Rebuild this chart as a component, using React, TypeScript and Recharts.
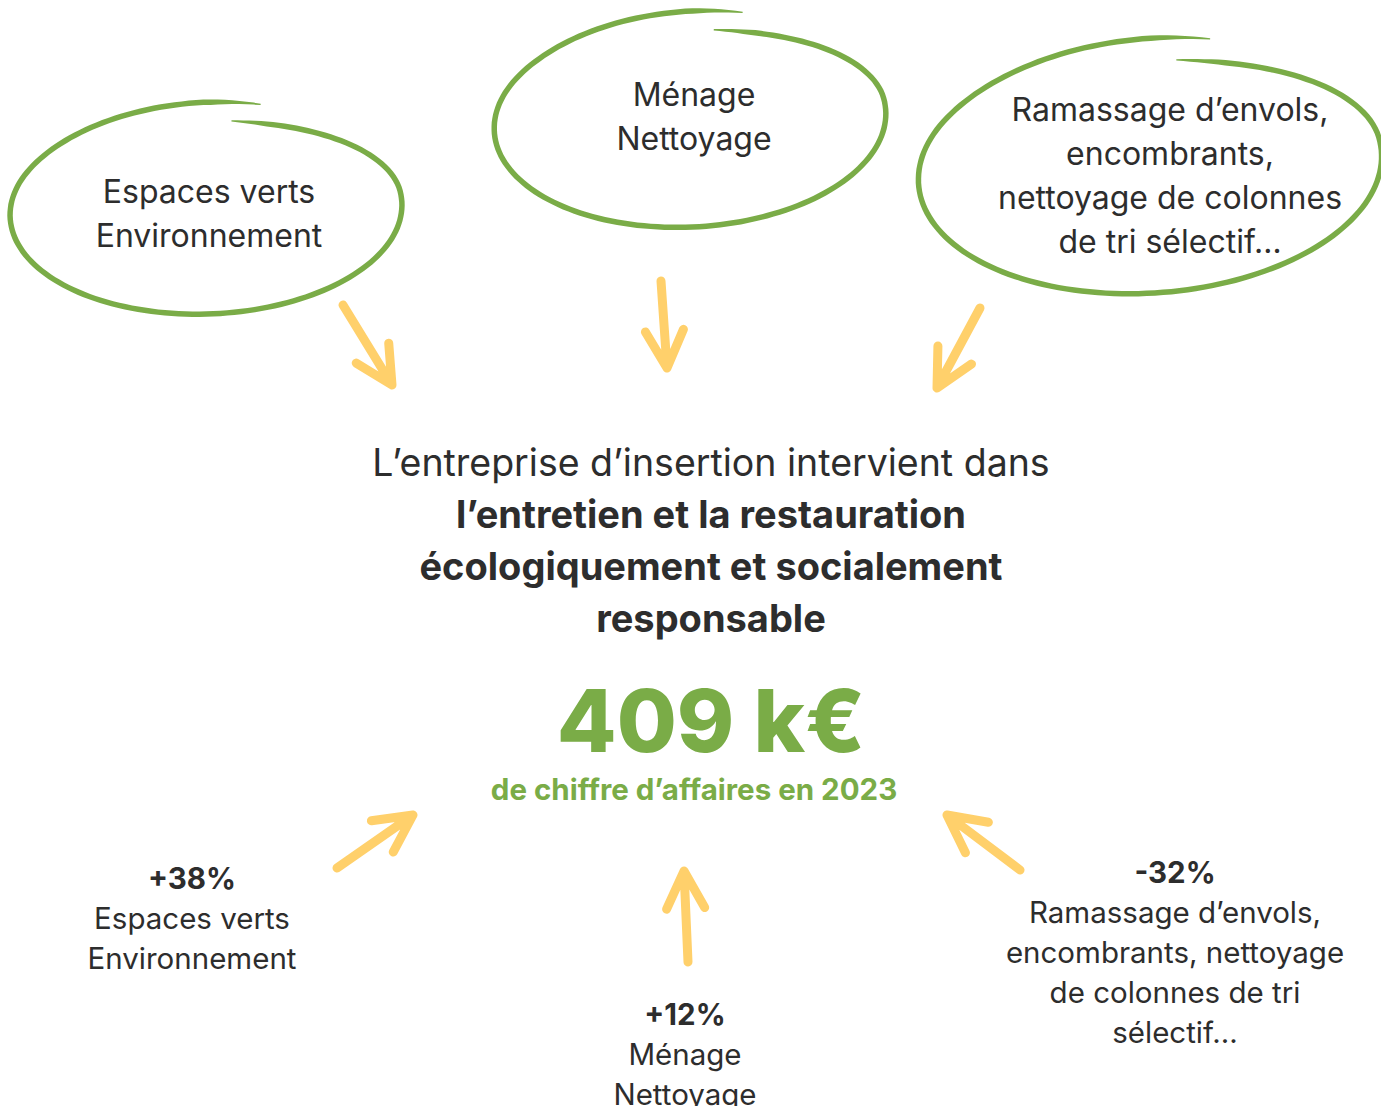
import { ScatterChart, Scatter, XAxis, YAxis } from "recharts";

// --- data ---
const serviceLines = [
  ["Espaces verts", "Environnement"],
  ["Ménage", "Nettoyage"],
  ["Ramassage d’envols,", "encombrants,", "nettoyage de colonnes", "de tri sélectif…"],
];
const growthValues = [38, 12, -32];
const growthLines = [
  ["Espaces verts", "Environnement"],
  ["Ménage", "Nettoyage"],
  ["Ramassage d’envols,", "encombrants, nettoyage", "de colonnes de tri", "sélectif…"],
];
const introLine = "L’entreprise d’insertion intervient dans";
const introBold = ["l’entretien et la restauration", "écologiquement et socialement", "responsable"];
const revenue = 409;
const revenueUnit = "k€";
const revenueYear = 2023;

// --- layout (pixels) ---
const W = 1381;
const H = 1106;
const GREEN = "#7aac47";
const YELLOW = "#ffd06b";
const INK = "#2d2d2d";
const FONT = "Inter, 'Noto Sans', sans-serif";

const bubbleLayout = [
  { x: 206, y: 210, rx: 196, ry: 104, rot: -2, tx: 3, ty: 3 },
  { x: 690, y: 121, rx: 196, ry: 106, rot: -3, tx: 4, ty: -5 },
  { x: 1150, y: 168, rx: 232, ry: 125, rot: -4, tx: 20, ty: 7 },
];
const growthLayout = [
  { x: 192, y: 878 },
  { x: 685, y: 1014 },
  { x: 1175, y: 872 },
];
const arrowLayout = [
  { x: 392, y: 385, fx: 343, fy: 305 },
  { x: 667, y: 368, fx: 661, fy: 281 },
  { x: 937, y: 388, fx: 980, fy: 308 },
  { x: 413, y: 815, fx: 337, fy: 868 },
  { x: 684, y: 871, fx: 688, fy: 962 },
  { x: 947, y: 815, fx: 1020, fy: 870 },
];
const headlineLayout = { x: 711, y: 462 };

const bubbleData = serviceLines.map((lines, i) => ({ ...bubbleLayout[i], lines }));
const growthData = growthValues.map((v, i) => ({
  ...growthLayout[i],
  label: `${v > 0 ? "+" : ""}${v}%`,
  lines: growthLines[i],
}));
const arrowData = arrowLayout;
const headlineData = [{ ...headlineLayout, revenue }];

const ease = (t: number) => {
  const c = Math.max(0, Math.min(1, t));
  return c * c * (3 - 2 * c);
};

// hand-drawn loop, slightly spiralling so the ends overlap
function brushPath(rx: number, ry: number, rot: number, w: number) {
  const N = 180;
  const t0 = -Math.PI / 2 + 0.17;
  const span = Math.PI * 2 + 0.12;
  const r = (rot * Math.PI) / 180;
  const pts: [number, number, number][] = [];
  for (let i = 0; i <= N; i++) {
    const u = i / N;
    const th = t0 + span * u;
    const s = 0.86 + 0.14 * ease(u / 0.2) + 0.04 * ease((u - 0.8) / 0.2);
    const px = rx * s * Math.cos(th);
    const py = ry * s * Math.sin(th);
    const x = px * Math.cos(r) - py * Math.sin(r);
    const y = px * Math.sin(r) + py * Math.cos(r);
    const k = Math.min(1, 0.25 + u / 0.05, 0.25 + (1 - u) / 0.05);
    pts.push([x, y, w * k]);
  }
  const a: string[] = [];
  const b: string[] = [];
  for (let i = 0; i <= N; i++) {
    const p0 = pts[Math.max(0, i - 1)];
    const p1 = pts[Math.min(N, i + 1)];
    let dx = p1[0] - p0[0];
    let dy = p1[1] - p0[1];
    const len = Math.hypot(dx, dy) || 1;
    dx /= len;
    dy /= len;
    const [x, y, ww] = pts[i];
    a.push(`${(x - dy * ww / 2).toFixed(1)},${(y + dx * ww / 2).toFixed(1)}`);
    b.push(`${(x + dy * ww / 2).toFixed(1)},${(y - dx * ww / 2).toFixed(1)}`);
  }
  return `M${a.join(" L")} L${b.reverse().join(" L")} Z`;
}

const Bubble = (props: any) => {
  const { cx, cy, payload } = props;
  const { rx, ry, rot, tx, ty, lines } = payload;
  const lh = 44;
  const top = cy + ty - ((lines.length - 1) * lh) / 2;
  return (
    <g>
      <path d={brushPath(rx, ry, rot, 5.5)} transform={`translate(${cx},${cy})`} fill={GREEN} />
      {lines.map((l: string, i: number) => (
        <text
          key={i}
          x={cx + tx}
          y={top + i * lh}
          textAnchor="middle"
          dominantBaseline="central"
          fontSize={32}
          fill={INK}
          fontFamily={FONT}
        >
          {l}
        </text>
      ))}
    </g>
  );
};

const Arrow = (props: any) => {
  const { cx, cy, payload } = props;
  const fx = cx + (payload.fx - payload.x);
  const fy = cy + (payload.fy - payload.y);
  const ang = Math.atan2(fy - cy, fx - cx);
  const L = 42;
  const spread = (27 * Math.PI) / 180;
  const b1x = cx + L * Math.cos(ang + spread);
  const b1y = cy + L * Math.sin(ang + spread);
  const b2x = cx + L * Math.cos(ang - spread);
  const b2y = cy + L * Math.sin(ang - spread);
  return (
    <path
      d={`M${fx},${fy} L${cx},${cy} M${b1x},${b1y} L${cx},${cy} L${b2x},${b2y}`}
      stroke={YELLOW}
      strokeWidth={9}
      strokeLinecap="round"
      strokeLinejoin="round"
      fill="none"
    />
  );
};

const Growth = (props: any) => {
  const { cx, cy, payload } = props;
  const lh = 40;
  return (
    <g fontFamily={FONT} textAnchor="middle" fontSize={29.5}>
      <text x={cx} y={cy} dominantBaseline="central" fontWeight={700} fill={INK}>
        {payload.label}
      </text>
      {payload.lines.map((l: string, i: number) => (
        <text key={i} x={cx} y={cy + (i + 1) * lh} dominantBaseline="central" fill={INK}>
          {l}
        </text>
      ))}
    </g>
  );
};

const Headline = (props: any) => {
  const { cx, cy, payload } = props;
  return (
    <g fontFamily={FONT} textAnchor="middle">
      <text x={cx} y={cy} dominantBaseline="central" fontSize={37.5} fill={INK}>
        {introLine}
      </text>
      {introBold.map((l, i) => (
        <text
          key={i}
          x={cx}
          y={cy + (i + 1) * 52}
          dominantBaseline="central"
          fontSize={38}
          fontWeight={700}
          fill={INK}
        >
          {l}
        </text>
      ))}
      <text x={cx} y={cy + 258} dominantBaseline="central" fontSize={87} fontWeight={800} fill={GREEN}>
        {`${payload.revenue} ${revenueUnit}`}
      </text>
      <text x={cx - 17} y={cy + 327} dominantBaseline="central" fontSize={29.5} fontWeight={700} fill={GREEN}>
        {`de chiffre d’affaires en ${revenueYear}`}
      </text>
    </g>
  );
};

const App = () => {
  return (
    <div style={{ position: "absolute", left: 0, top: 0, width: W, height: H, background: "#fff" }}>
      <ScatterChart width={W} height={H} margin={{ top: 0, right: 0, bottom: 0, left: 0 }}>
        <XAxis type="number" dataKey="x" domain={[0, W]} hide />
        <YAxis type="number" dataKey="y" domain={[0, H]} reversed hide />
        <Scatter name="arrows" data={arrowData} shape={Arrow} isAnimationActive={false} />
        <Scatter name="services" data={bubbleData} shape={Bubble} isAnimationActive={false} />
        <Scatter name="growth" data={growthData} shape={Growth} isAnimationActive={false} />
        <Scatter name="revenue" data={headlineData} shape={Headline} isAnimationActive={false} />
      </ScatterChart>
    </div>
  );
};

export default App;
